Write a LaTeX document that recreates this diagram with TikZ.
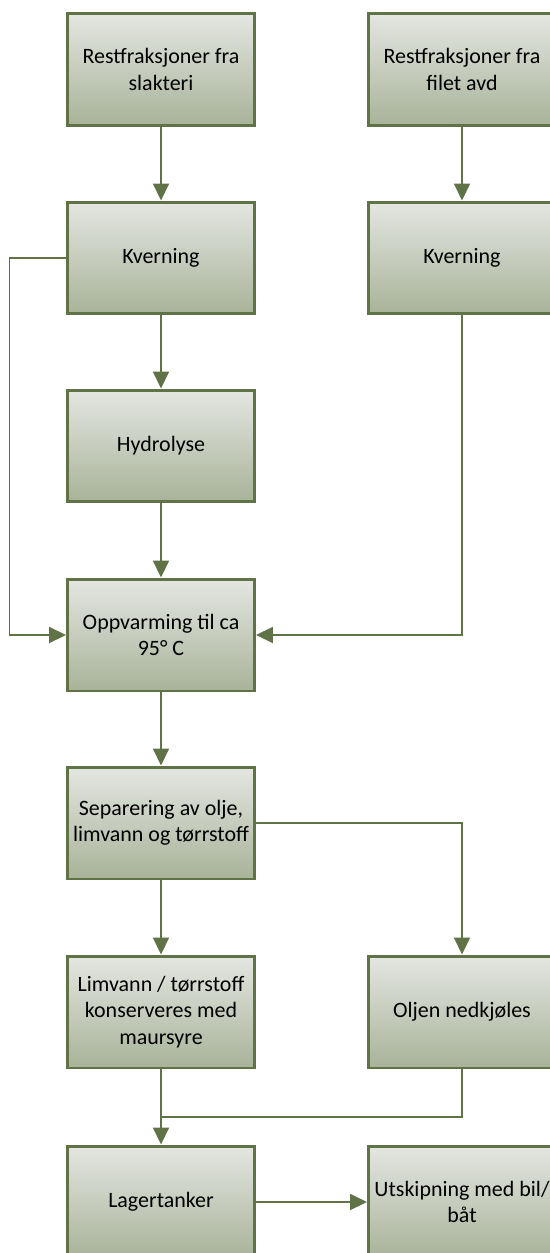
\documentclass[tikz,border=0pt]{standalone}
\usepackage{fontspec}
\setmainfont{Carlito}
\usetikzlibrary{arrows.meta}
\definecolor{olive}{HTML}{5F7347}
\definecolor{topfill}{HTML}{E4E6E1}
\definecolor{botfill}{HTML}{A8B399}
\tikzset{
  stepbox/.style={draw=olive, line width=1.7pt, top color=topfill, bottom color=botfill,
    minimum width=3.74cm, minimum height=2.24cm, align=center, inner sep=1pt,
    font=\fontsize{12.5}{15}\selectfont},
  flow/.style={draw=olive, line width=1.1pt},
  arr/.style={flow, -{Triangle[length=0.34cm,width=0.32cm]}}
}
\begin{document}
\begin{tikzpicture}[x=0.02cm,y=-0.02cm]
        \useasboundingbox (0,0) rectangle (549,1253);
        \node[stepbox] (slakt) at (161,69.5) {Restfraksjoner fra\\slakteri};
        \node[stepbox] (filet) at (462,69.5) {Restfraksjoner fra\\filet avd};
        \node[stepbox] (kvern1) at (161,258) {Kverning};
        \node[stepbox] (kvern2) at (462,258) {Kverning};
        \node[stepbox] (hydro) at (161,446) {Hydrolyse};
        \node[stepbox] (oppv) at (161,635) {Oppvarming til ca\\95° C};
        \node[stepbox] (separ) at (161,823) {Separering av olje,\\limvann og tørrstoff};
        \node[stepbox] (limv) at (161,1012) {Limvann / tørrstoff\\konserveres med\\maursyre};
        \node[stepbox] (olje) at (462,1012) {Oljen nedkjøles};
        \node[stepbox] (lager) at (161,1202) {Lagertanker};
        \node[stepbox] (utskip) at (462,1202) {Utskipning med bil/\\båt};
        \coordinate (venstre) at (9.5,258);
        \coordinate (samle) at (161,1117);
        \draw[arr] (slakt) -- (kvern1);
        \draw[arr] (filet) -- (kvern2);
        \draw[arr] (kvern1) -- (hydro);
        \draw[arr] (hydro) -- (oppv);
        \draw[arr] (kvern1.west) -- (venstre) |- (oppv.west);
        \draw[arr] (kvern2.south) |- (oppv.east);
        \draw[arr] (oppv) -- (separ);
        \draw[arr] (separ) -- (limv);
        \draw[arr] (separ.east) -| (olje.north);
        \draw[arr] (limv) -- (lager);
        \draw[flow] (olje.south) |- (samle);
        \draw[arr] (lager) -- (utskip);
    \end{tikzpicture}
\end{document}
